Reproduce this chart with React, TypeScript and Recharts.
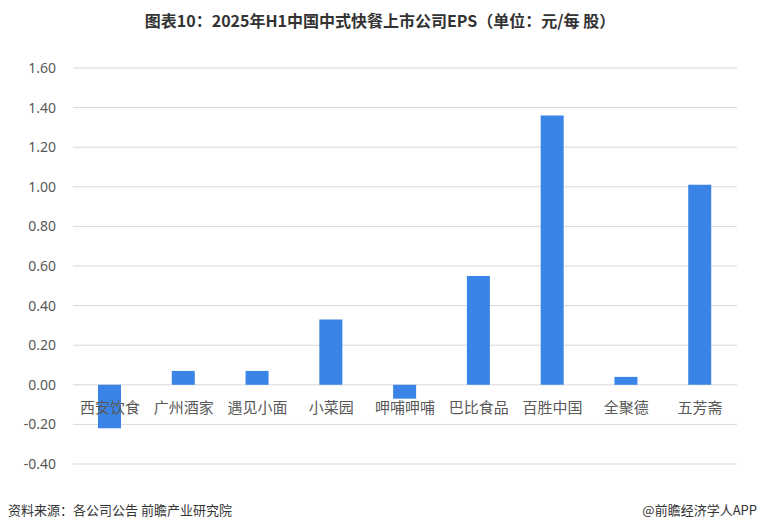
import React from 'react';
import { BarChart, Bar, XAxis, YAxis, CartesianGrid } from 'recharts';

const categories = ['西安饮食', '广州酒家', '遇见小面', '小菜园', '呷哺呷哺', '巴比食品', '百胜中国', '全聚德', '五芳斋'];
const epsValues = [-0.22, 0.07, 0.07, 0.33, -0.07, 0.55, 1.36, 0.04, 1.01];
const yTicks = [-0.4, -0.2, 0, 0.2, 0.4, 0.6, 0.8, 1.0, 1.2, 1.4, 1.6];

const data = categories.map((name, i) => ({ name, eps: epsValues[i] }));

const FONT = '"Noto Sans CJK SC", "Noto Sans", sans-serif';

const renderCategoryTick = (props: any) => {
  const { x, y, payload } = props;
  return (
    <text x={x} y={y - 58} textAnchor="middle" dominantBaseline="central" fill="#595959" fontSize={15} fontFamily={FONT}>
      {payload.value}
    </text>
  );
};

export default function App() {
  return (
    <div style={{ position: 'absolute', left: 0, top: 0, width: 760, height: 531, background: '#fff', fontFamily: FONT }}>
      <div style={{ position: 'absolute', left: 0, top: 9, width: 760, textAlign: 'center', fontSize: 16, fontWeight: 'bold', color: '#333', lineHeight: '22px' }}>
        图表10：2025年H1中国中式快餐上市公司EPS（单位：元/每 股）
      </div>
      <BarChart width={760} height={531} data={data} margin={{ top: 68, right: 23, bottom: 37, left: 13 }}>
        <CartesianGrid horizontal={true} vertical={false} stroke="#d9d9d9" />
        <YAxis
          domain={[-0.4, 1.6]}
          ticks={yTicks}
          interval={0}
          width={60}
          axisLine={false}
          tickLine={false}
          tickSize={0}
          tickMargin={17}
          tickFormatter={(v: number) => v.toFixed(2)}
          tick={{ fill: '#595959', fontSize: 14, fontFamily: '"Noto Sans", sans-serif' }}
        />
        <Bar dataKey="eps" fill="#3984e6" barSize={23} isAnimationActive={false} />
        <XAxis dataKey="name" axisLine={false} tickLine={false} tickSize={0} tickMargin={0} tick={renderCategoryTick} interval={0} height={30} />
      </BarChart>
      <div style={{ position: 'absolute', left: 8, top: 501, fontSize: 13, color: '#333', lineHeight: '18px' }}>
        资料来源：各公司公告 前瞻产业研究院
      </div>
      <div style={{ position: 'absolute', right: 3, top: 501, fontSize: 13, color: '#333', lineHeight: '18px' }}>
        @前瞻经济学人APP
      </div>
    </div>
  );
}
